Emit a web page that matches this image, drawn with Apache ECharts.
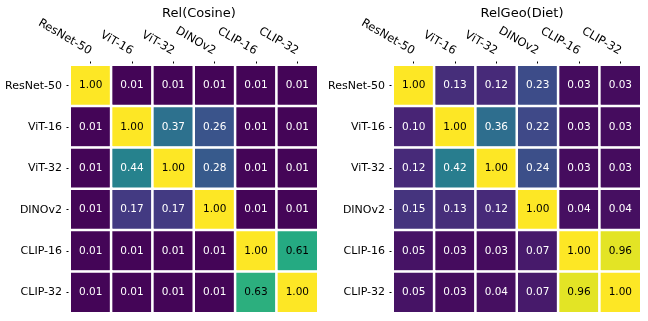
<!DOCTYPE html>
<html>
<head>
<meta charset="utf-8">
<script src="https://cdn.jsdelivr.net/npm/echarts@6/dist/echarts.min.js"></script>
<style>
  html, body { margin: 0; padding: 0; background: #fff; }
  #chart { width: 648px; height: 321px; }
</style>
</head>
<body>
<div id="chart"></div>
<script>
const models = ['ResNet-50', 'ViT-16', 'ViT-32', 'DINOv2', 'CLIP-16', 'CLIP-32']
const titles = ['Rel(Cosine)', 'RelGeo(Diet)']

// rows top to bottom, columns left to right
const relCosine = [
  [1.00, 0.01, 0.01, 0.01, 0.01, 0.01],
  [0.01, 1.00, 0.37, 0.26, 0.01, 0.01],
  [0.01, 0.44, 1.00, 0.28, 0.01, 0.01],
  [0.01, 0.17, 0.17, 1.00, 0.01, 0.01],
  [0.01, 0.01, 0.01, 0.01, 1.00, 0.61],
  [0.01, 0.01, 0.01, 0.01, 0.63, 1.00]
]
const relGeoDiet = [
  [1.00, 0.13, 0.12, 0.23, 0.03, 0.03],
  [0.10, 1.00, 0.36, 0.22, 0.03, 0.03],
  [0.12, 0.42, 1.00, 0.24, 0.03, 0.03],
  [0.15, 0.13, 0.12, 1.00, 0.04, 0.04],
  [0.05, 0.03, 0.03, 0.07, 1.00, 0.96],
  [0.05, 0.03, 0.04, 0.07, 0.96, 1.00]
]

const viridis = ['#440154', '#482475', '#414487', '#355f8d', '#2a788e',
  '#21918c', '#22a884', '#44bf70', '#7ad151', '#bddf26', '#fde725']
const font = 'DejaVu Sans'

function toCells (matrix) {
  let out = []
  matrix.forEach((row, r) => {
    row.forEach((v, c) => {
      out.push({
        value: [c, r, v],
        label: { color: v > 0.5 ? '#000' : '#fff' }
      })
    })
  })
  return out
}

const grids = [
  { left: 70, top: 65, width: 248, height: 248 },
  { left: 393, top: 65, width: 248, height: 248 }
]

let myChart = echarts.init(document.getElementById('chart'))
myChart.setOption({
  backgroundColor: '#fff',
  animation: false,
  title: titles.map((t, i) => ({
    text: t,
    left: grids[i].left + grids[i].width / 2,
    top: 2,
    textAlign: 'center',
    textStyle: { fontFamily: font, fontSize: 13, fontWeight: 'normal', color: '#000' }
  })),
  grid: grids,
  xAxis: grids.map((g, i) => ({
    type: 'category',
    gridIndex: i,
    position: 'top',
    data: models,
    axisLine: { show: false },
    axisTick: { show: true, alignWithLabel: true, length: 3.5, lineStyle: { color: '#000' } },
    axisLabel: {
      rotate: 30,
      margin: 13,
      interval: 0,
      color: '#000',
      fontFamily: font,
      fontSize: 11.5
    },
    splitLine: { show: false }
  })),
  yAxis: grids.map((g, i) => ({
    type: 'category',
    gridIndex: i,
    inverse: true,
    data: models,
    axisLine: { show: false },
    axisTick: { show: true, alignWithLabel: true, length: 3.5, lineStyle: { color: '#000' } },
    axisLabel: {
      margin: 8,
      interval: 0,
      color: '#000',
      fontFamily: font,
      fontSize: 11
    },
    splitLine: { show: false }
  })),
  visualMap: {
    show: false,
    min: 0,
    max: 1,
    seriesIndex: [0, 1],
    dimension: 2,
    inRange: { color: viridis }
  },
  series: [relCosine, relGeoDiet].map((m, i) => ({
    name: titles[i],
    type: 'heatmap',
    xAxisIndex: i,
    yAxisIndex: i,
    data: toCells(m),
    label: {
      show: true,
      fontFamily: font,
      fontSize: 10.5,
      formatter: p => p.value[2].toFixed(2)
    },
    itemStyle: { borderColor: '#fff', borderWidth: 2.5 },
    emphasis: { disabled: true }
  }))
})
</script>
</body>
</html>
